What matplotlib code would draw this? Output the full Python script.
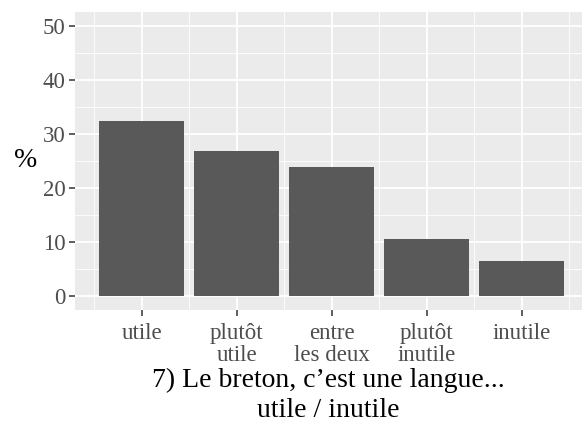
import numpy as np
import matplotlib.pyplot as plt

plt.rcParams['font.family'] = ['Liberation Serif', 'DejaVu Serif']

# réponses et pourcentages
categories = ['utile', 'plutôt\nutile', 'entre\nles deux', 'plutôt\ninutile', 'inutile']
pourcentages = [32.4, 26.8, 23.8, 10.5, 6.4]
yticks = [0, 10, 20, 30, 40, 50]

fig = plt.figure(figsize=(5.82, 4.29), dpi=100)
ax = fig.add_axes([75 / 582, 1 - 309.5 / 429, 507 / 582, (309.5 - 12) / 429])

x = np.arange(1, len(categories) + 1)
ax.set_facecolor('#EBEBEB')

# grille façon ggplot
for v in np.arange(5, 50, 10):
    ax.axhline(v, color='white', lw=0.6, zorder=0)
for v in yticks:
    ax.axhline(v, color='white', lw=1.3, zorder=0)
for v in np.arange(0.5, 6, 1):
    ax.axvline(v, color='white', lw=0.6, zorder=0)
for v in x:
    ax.axvline(v, color='white', lw=1.3, zorder=0)

ax.bar(x, pourcentages, width=0.9, color='#595959', zorder=2)

ax.set_xlim(0.298, 5.635)
ax.set_ylim(-2.5, 52.5)
ax.set_xticks(x)
ax.set_xticklabels(categories, fontsize=16.5, color='#4D4D4D', linespacing=1.05)
ax.set_yticks(yticks)
ax.set_yticklabels([str(v) for v in yticks], fontsize=16.5, color='#4D4D4D')
ax.tick_params(axis='both', length=4, width=1.1, color='#333333', pad=3)
ax.tick_params(axis='x', pad=6)

for s in ax.spines.values():
    s.set_visible(False)

ax.set_ylabel('%', fontsize=20, rotation=0, labelpad=12, va='center')
ax.set_xlabel('7) Le breton, c’est une langue...\nutile / inutile', fontsize=20,
              linespacing=1.3, labelpad=1)

fig.savefig('out.png', dpi=100)
